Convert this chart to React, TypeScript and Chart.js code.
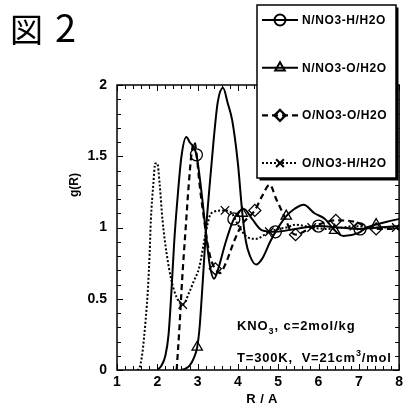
import React, { useEffect, useRef } from "react";
import { Chart, registerables } from "chart.js";
import { drawPoint } from "chart.js/helpers";

Chart.register(...registerables);

// ---- axis ticks ----
const X_TICKS = [1, 2, 3, 4, 5, 6, 7, 8];
const X_TICK_LABELS = ["1", "2", "3", "4", "5", "6", "7", "8"];
const Y_TICKS = [0, 0.5, 1, 1.5, 2];
const Y_TICK_LABELS = ["0", "0.5", "1", "1.5", "2"];

// ---- series names ----
const SERIES_NAMES = ["N/NO3-H/H2O", "N/NO3-O/H2O", "O/NO3-O/H2O", "O/NO3-H/H2O"];

// ---- N/NO3-H/H2O (solid, circles) ----
const NH_R = [2.0, 2.1, 2.2, 2.28, 2.35, 2.42, 2.5, 2.6, 2.72, 2.8, 2.97, 3.1, 3.2, 3.3, 3.41, 3.5, 3.7, 3.9, 4.15, 4.35, 4.6, 4.93, 5.43, 6.0, 6.5, 7.03, 7.5, 8.0];
const NH_G = [0, 0.03, 0.1, 0.25, 0.55, 0.9, 1.2, 1.5, 1.635, 1.6, 1.51, 1.24, 0.98, 0.74, 0.64, 0.7, 0.9, 1.06, 1.13, 1.06, 0.98, 0.97, 0.99, 1.01, 1.0, 0.99, 1.0, 1.01];
const NH_MARK = [2.97, 3.9, 4.93, 6.0, 7.03];

// ---- N/NO3-O/H2O (solid, triangles) ----
const NO_R = [2.6, 2.7, 2.8, 2.9, 2.99, 3.05, 3.1, 3.15, 3.2, 3.3, 3.4, 3.5, 3.63, 3.75, 3.86, 4.0, 4.11, 4.2, 4.3, 4.45, 4.6, 4.8, 5.0, 5.2, 5.4, 5.63, 5.9, 6.16, 6.4, 6.62, 6.98, 7.2, 7.43, 7.7, 8.0];
const NO_G = [0, 0.01, 0.03, 0.08, 0.16, 0.3, 0.5, 0.72, 0.95, 1.3, 1.62, 1.88, 1.98, 1.87, 1.75, 1.45, 1.1, 0.9, 0.8, 0.74, 0.78, 0.9, 1.0, 1.08, 1.13, 1.16, 1.1, 1.06, 0.98, 0.94, 0.96, 1.0, 1.02, 1.04, 1.06];
const NO_MARK = [2.99, 4.11, 5.2, 6.4, 7.43];

// ---- O/NO3-O/H2O (dashed, diamonds) ----
const OO_R = [2.48, 2.55, 2.62, 2.7, 2.78, 2.85, 2.92, 2.98, 3.05, 3.15, 3.25, 3.35, 3.44, 3.55, 3.7, 3.9, 4.1, 4.42, 4.6, 4.79, 4.95, 5.18, 5.3, 5.43, 5.7, 6.0, 6.43, 6.9, 7.23, 7.43, 7.7, 8.0];
const OO_G = [0, 0.3, 0.65, 0.98, 1.3, 1.52, 1.6, 1.5, 1.3, 1.08, 0.88, 0.76, 0.71, 0.68, 0.75, 0.9, 1.02, 1.12, 1.22, 1.3, 1.2, 1.06, 0.98, 0.95, 0.98, 1.02, 1.05, 1.04, 1.0, 0.99, 0.99, 0.99];
const OO_MARK = [3.44, 4.42, 5.43, 6.43, 7.43];

// ---- O/NO3-H/H2O (dotted, crosses) ----
const OH_R = [1.5, 1.55, 1.63, 1.71, 1.77, 1.81, 1.84, 1.9, 1.95, 2.0, 2.06, 2.13, 2.23, 2.35, 2.48, 2.63, 2.8, 2.9, 3.04, 3.2, 3.3, 3.4, 3.68, 3.85, 4.0, 4.2, 4.44, 4.78, 5.0, 5.2, 5.43, 5.83, 6.2, 6.6, 6.88, 7.4, 7.93, 8.0];
const OH_G = [0, 0.01, 0.12, 0.35, 0.58, 0.82, 1.05, 1.3, 1.45, 1.45, 1.3, 1.05, 0.82, 0.63, 0.51, 0.46, 0.55, 0.62, 0.72, 0.96, 1.08, 1.11, 1.12, 1.1, 1.02, 0.94, 0.92, 0.97, 0.99, 1.0, 1.02, 1.0, 0.99, 1.0, 1.01, 1.0, 1.0, 1.0];
const OH_MARK = [2.63, 3.68, 4.78, 5.83, 6.88, 7.93];

const FONT = "'Liberation Sans', Arial, Helvetica, sans-serif";

const pts = (r: number[], g: number[]) => r.map((v, i) => ({ x: v, y: g[i] }));

const framePlugin = {
  id: "frame",
  afterDatasetsDraw(chart: any) {
    const { ctx, chartArea, scales } = chart;
    const { left, right, top, bottom } = chartArea;
    const xs = scales.x;
    const ys = scales.y;
    ctx.save();
    ctx.strokeStyle = "#000";
    ctx.lineWidth = 1.5;
    ctx.strokeRect(left, top, right - left, bottom - top);
    ctx.lineWidth = 1;
    ctx.beginPath();
    const nx = Math.round((xs.max - xs.min) / 0.2);
    for (let i = 0; i <= nx; i++) {
      const px = Math.round(xs.getPixelForValue(xs.min + i * 0.2)) + 0.5;
      const len = i % 5 === 0 ? 6 : 4;
      ctx.moveTo(px, bottom);
      ctx.lineTo(px, bottom - len);
      ctx.moveTo(px, top);
      ctx.lineTo(px, top + len);
    }
    const ny = Math.round((ys.max - ys.min) / 0.1);
    for (let i = 0; i <= ny; i++) {
      const py = Math.round(ys.getPixelForValue(ys.min + i * 0.1)) + 0.5;
      const len = i % 5 === 0 ? 6 : 4;
      ctx.moveTo(left, py);
      ctx.lineTo(left + len, py);
      ctx.moveTo(right, py);
      ctx.lineTo(right - len, py);
    }
    ctx.stroke();
    ctx.restore();
  },
};

const legendPlugin = {
  id: "boxLegend",
  afterDraw(chart: any) {
    const { ctx } = chart;
    const bx = 257, by = 5, bw = 139, bh = 173;
    ctx.save();
    ctx.fillStyle = "#000";
    ctx.fillRect(bx + 2.5, by + 2.5, bw, bh);
    ctx.fillStyle = "#fff";
    ctx.fillRect(bx, by, bw, bh);
    ctx.strokeStyle = "#000";
    ctx.lineWidth = 1.5;
    ctx.strokeRect(bx, by, bw, bh);
    chart.data.datasets.forEach((ds: any, i: number) => {
      const yy = 20 + i * 47.7;
      ctx.save();
      ctx.strokeStyle = "#000";
      ctx.lineWidth = ds.borderWidth;
      ctx.setLineDash(ds.borderDash || []);
      ctx.beginPath();
      ctx.moveTo(262, yy);
      ctx.lineTo(298, yy);
      ctx.stroke();
      ctx.setLineDash([]);
      ctx.strokeStyle = "#000";
      ctx.fillStyle = "rgba(255,255,255,0)";
      drawPoint(ctx, { pointStyle: ds.pointStyle, radius: 5.5, borderWidth: 1.2, rotation: 0 }, 280, yy);
      ctx.restore();
      ctx.fillStyle = "#000";
      ctx.font = `bold 12px ${FONT}`;
      (ctx as any).letterSpacing = "0.6px";
      ctx.textBaseline = "middle";
      ctx.textAlign = "left";
      ctx.fillText(ds.label, 302, yy + 0.5);
    });
    ctx.restore();
  },
};

export default function App() {
  const ref = useRef<HTMLCanvasElement>(null);
  useEffect(() => {
    document.body.style.margin = "0";
    const markers = [NH_MARK, NO_MARK, OO_MARK, OH_MARK];
    const radiusFor = (k: number) => (c: any) => (c.raw && markers[k].includes(c.raw.x) ? 6 : 0);
    const base = {
      borderColor: "#000",
      pointBorderColor: "#000",
      pointBackgroundColor: "rgba(255,255,255,0)",
      pointBorderWidth: 1.3,
      cubicInterpolationMode: "monotone" as const,
      fill: false,
    };
    const chart = new Chart(ref.current as HTMLCanvasElement, {
      type: "line",
      data: {
        datasets: [
          { ...base, label: SERIES_NAMES[0], data: pts(NH_R, NH_G), borderWidth: 2, borderDash: [], pointStyle: "circle", pointRadius: radiusFor(0) },
          { ...base, label: SERIES_NAMES[1], data: pts(NO_R, NO_G), borderWidth: 2, borderDash: [], pointStyle: "triangle", pointRadius: radiusFor(1) },
          { ...base, label: SERIES_NAMES[2], data: pts(OO_R, OO_G), borderWidth: 2.2, borderDash: [6, 4], pointStyle: "rectRot", pointRadius: radiusFor(2) },
          { ...base, label: SERIES_NAMES[3], data: pts(OH_R, OH_G), borderWidth: 2, borderDash: [2, 2], pointStyle: "crossRot", pointRadius: radiusFor(3) },
        ] as any,
      },
      options: {
        responsive: false,
        animation: false,
        events: [],
        layout: { padding: { left: 0, top: 85, right: 5, bottom: 0 } },
        plugins: { legend: { display: false }, tooltip: { enabled: false } },
        scales: {
          x: {
            type: "linear",
            min: 1,
            max: 8,
            afterBuildTicks: (s: any) => { s.ticks = X_TICKS.map((v) => ({ value: v })); },
            afterFit: (s: any) => { s.height = 35; },
            grid: { display: false, drawTicks: false },
            border: { display: false },
            ticks: {
              color: "#000", padding: 4, font: { family: FONT, size: 14, weight: "bold" }, maxRotation: 0, autoSkip: false,
              callback: (v: any) => X_TICK_LABELS[X_TICKS.indexOf(Number(v))] ?? "",
            },
          },
          y: {
            type: "linear",
            min: 0,
            max: 2,
            afterBuildTicks: (s: any) => { s.ticks = Y_TICKS.map((v) => ({ value: v })); },
            afterFit: (s: any) => { s.width = 117; },
            grid: { display: false, drawTicks: false },
            border: { display: false },
            ticks: {
              color: "#000", padding: 10, font: { family: FONT, size: 14, weight: "bold" }, autoSkip: false,
              callback: (v: any) => Y_TICK_LABELS[Y_TICKS.indexOf(Number(v))] ?? "",
            },
          },
        },
      },
      plugins: [framePlugin, legendPlugin],
    });
    return () => chart.destroy();
  }, []);

  const txt: React.CSSProperties = { position: "absolute", fontFamily: FONT, fontWeight: "bold", color: "#000", whiteSpace: "nowrap" };
  return (
    <div style={{ position: "relative", width: 407, height: 405, background: "#fff", overflow: "hidden" }}>
      <canvas ref={ref} width={407} height={405} style={{ display: "block" }} />
      <div style={{ position: "absolute", left: 10, top: 4, fontFamily: "'Noto Sans CJK JP', sans-serif", fontSize: 33, lineHeight: "44px", color: "#000" }}>
        図<span style={{ marginLeft: 12, fontSize: 38 }}>2</span>
      </div>
      <div style={{ ...txt, left: 74, top: 185, fontSize: 12, lineHeight: "14px", transform: "translate(-50%, -50%) rotate(-90deg)" }}>g(R)</div>
      <div style={{ ...txt, left: 262, top: 399, fontSize: 13, lineHeight: "14px", transform: "translate(-50%, -50%)", letterSpacing: "0.5px" }}>R / A</div>
      <div style={{ ...txt, left: 237, top: 319, fontSize: 13, lineHeight: "13px", letterSpacing: "0.9px" }}>
        KNO<sub style={{ fontSize: 9, verticalAlign: "-4px", lineHeight: 0 }}>3</sub>, c=2mol/kg
      </div>
      <div style={{ ...txt, left: 237, top: 351, fontSize: 13, lineHeight: "13px", letterSpacing: "0.8px" }}>
        T=300K,&nbsp; V=21cm<sup style={{ fontSize: 9, verticalAlign: "6px", lineHeight: 0 }}>3</sup>/mol
      </div>
    </div>
  );
}
